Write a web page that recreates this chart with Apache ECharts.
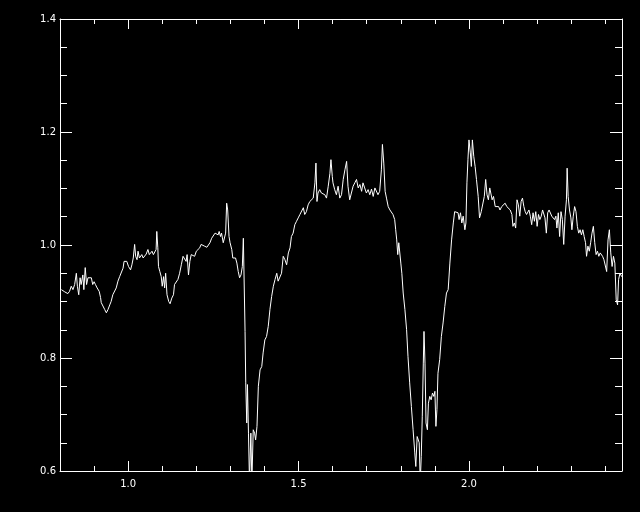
<!DOCTYPE html>
<html>
<head>
<meta charset="utf-8">
<script src="https://cdn.jsdelivr.net/npm/echarts@6/dist/echarts.min.js"></script>
<style>
html,body{margin:0;padding:0;background:#000;}
#chart{width:640px;height:512px;}
</style>
</head>
<body>
<div id="chart"></div>
<script>
// Wavelength (x) values
var wavelength = [
0.804,0.809,0.814,0.818,0.823,0.828,0.833,0.838,0.843,0.848,0.851,0.855,0.859,0.862,0.867,0.870,0.874,0.878,0.882,0.887,
0.892,0.896,0.900,0.904,0.909,0.915,0.919,0.921,0.926,0.931,0.936,0.941,0.946,0.950,0.955,0.960,0.965,0.970,0.975,0.980,
0.985,0.988,0.992,0.996,1.001,1.007,1.011,1.015,1.019,1.022,1.026,1.029,1.033,1.037,1.040,1.044,1.048,1.053,1.058,1.062,
1.066,1.070,1.074,1.078,1.082,1.084,1.087,1.089,1.093,1.097,1.100,1.104,1.107,1.110,1.114,1.119,1.123,1.128,1.133,1.136,
1.141,1.146,1.151,1.156,1.161,1.166,1.170,1.173,1.177,1.181,1.185,1.190,1.195,1.200,1.205,1.210,1.214,1.219,1.224,1.231,
1.235,1.240,1.245,1.250,1.255,1.260,1.264,1.267,1.271,1.274,1.279,1.282,1.286,1.289,1.292,1.296,1.299,1.304,1.307,1.311,
1.315,1.319,1.323,1.327,1.331,1.335,1.338,1.341,1.343,1.345,1.348,1.350,1.353,1.356,1.360,1.363,1.367,1.371,1.374,1.378,
1.382,1.387,1.392,1.396,1.401,1.406,1.411,1.416,1.421,1.426,1.431,1.436,1.440,1.445,1.450,1.455,1.460,1.465,1.470,1.475,
1.479,1.484,1.489,1.494,1.499,1.504,1.509,1.514,1.518,1.523,1.528,1.533,1.538,1.543,1.546,1.548,1.551,1.554,1.557,1.562,
1.567,1.572,1.577,1.582,1.587,1.592,1.595,1.599,1.601,1.606,1.611,1.616,1.621,1.626,1.631,1.636,1.641,1.645,1.650,1.655,
1.660,1.665,1.670,1.675,1.680,1.685,1.689,1.694,1.699,1.704,1.709,1.714,1.719,1.724,1.729,1.733,1.738,1.743,1.746,1.750,
1.754,1.758,1.763,1.768,1.773,1.777,1.782,1.785,1.788,1.791,1.794,1.797,1.800,1.803,1.807,1.812,1.817,1.821,1.826,1.831,
1.836,1.841,1.844,1.848,1.851,1.854,1.857,1.860,1.863,1.866,1.868,1.871,1.874,1.878,1.881,1.885,1.889,1.893,1.897,1.900,
1.903,1.906,1.909,1.914,1.919,1.924,1.929,1.934,1.939,1.944,1.949,1.954,1.958,1.963,1.968,1.971,1.975,1.979,1.983,1.988,
1.991,1.994,1.997,2.000,2.004,2.007,2.010,2.014,2.018,2.022,2.027,2.031,2.036,2.040,2.045,2.049,2.053,2.057,2.061,2.065,
2.068,2.072,2.077,2.082,2.087,2.091,2.096,2.101,2.106,2.111,2.116,2.121,2.126,2.129,2.133,2.137,2.141,2.145,2.149,2.153,
2.157,2.161,2.165,2.169,2.172,2.176,2.180,2.184,2.188,2.192,2.196,2.200,2.204,2.208,2.212,2.216,2.219,2.223,2.227,2.231,
2.235,2.239,2.243,2.247,2.251,2.255,2.258,2.262,2.266,2.270,2.274,2.278,2.282,2.286,2.288,2.291,2.295,2.299,2.302,2.306,
2.310,2.314,2.318,2.322,2.326,2.330,2.334,2.338,2.342,2.345,2.349,2.353,2.357,2.361,2.365,2.369,2.373,2.377,2.381,2.385,
2.389,2.392,2.396,2.400,2.404,2.408,2.412,2.416,2.420,2.424,2.428,2.432,2.436,2.439,2.443,2.448
];
// Normalized flux (y) values
var flux = [
0.921,0.918,0.917,0.915,0.914,0.918,0.927,0.921,0.930,0.950,0.927,0.912,0.942,0.930,0.947,0.921,0.960,0.930,0.942,0.944,
0.942,0.930,0.935,0.930,0.924,0.918,0.907,0.898,0.900,0.886,0.880,0.886,0.894,0.900,0.912,0.913,0.924,0.936,0.944,0.947,
0.959,0.971,0.974,0.971,0.962,0.956,0.965,0.977,1.001,0.980,0.974,0.989,0.977,0.980,0.983,0.977,0.980,0.984,0.992,0.983,
0.986,0.989,0.983,0.986,0.992,1.024,0.995,0.962,0.953,0.944,0.927,0.944,0.924,0.950,0.912,0.900,0.896,0.906,0.912,0.930,
0.933,0.939,0.950,0.965,0.980,0.983,0.971,0.983,0.947,0.971,0.983,0.986,0.980,0.989,0.986,0.995,1.001,1.004,0.998,0.996,
0.995,1.004,1.012,1.015,1.021,1.024,1.018,1.024,1.015,1.021,1.004,1.001,1.021,1.074,1.062,1.015,1.004,0.992,0.977,0.980,
0.977,0.968,0.953,0.942,0.947,0.962,1.012,1.009,0.847,0.756,0.685,0.753,0.667,0.580,0.667,0.580,0.673,0.667,0.655,0.679,
0.750,0.779,0.785,0.809,0.832,0.838,0.856,0.886,0.909,0.927,0.939,0.950,0.936,0.933,0.950,0.980,0.974,0.965,0.986,0.995,
1.015,1.021,1.036,1.042,1.048,1.054,1.057,1.066,1.054,1.059,1.071,1.077,1.074,1.083,1.080,1.110,1.145,1.077,1.092,1.098,
1.092,1.095,1.089,1.083,1.104,1.127,1.151,1.121,1.110,1.098,1.089,1.104,1.083,1.089,1.116,1.133,1.148,1.104,1.080,1.092,
1.104,1.110,1.116,1.101,1.107,1.095,1.110,1.101,1.092,1.098,1.089,1.099,1.086,1.101,1.098,1.089,1.095,1.133,1.178,1.145,
1.095,1.083,1.068,1.062,1.065,1.054,1.045,1.027,1.009,0.983,1.004,1.001,0.968,0.950,0.915,0.886,0.850,0.803,0.756,0.714,
0.673,0.632,0.608,0.661,0.664,0.650,0.580,0.626,0.697,0.791,0.847,0.791,0.685,0.673,0.720,0.732,0.726,0.738,0.732,0.741,
0.679,0.709,0.773,0.797,0.838,0.862,0.891,0.915,0.921,0.968,1.009,1.039,1.059,1.062,1.057,1.045,1.057,1.039,1.051,1.027,
1.039,1.110,1.151,1.186,1.163,1.139,1.186,1.157,1.139,1.116,1.086,1.048,1.059,1.062,1.086,1.116,1.089,1.080,1.101,1.104,
1.080,1.086,1.068,1.065,1.068,1.062,1.068,1.065,1.074,1.068,1.071,1.062,1.054,1.033,1.039,1.030,1.080,1.071,1.051,1.077,
1.083,1.068,1.059,1.054,1.057,1.062,1.051,1.036,1.057,1.042,1.059,1.033,1.054,1.045,1.051,1.062,1.065,1.048,1.021,1.057,
1.062,1.059,1.051,1.054,1.045,1.051,1.030,1.057,1.015,1.059,1.045,1.001,1.051,1.080,1.136,1.086,1.062,1.048,1.027,1.051,
1.068,1.059,1.033,1.021,1.027,1.018,1.027,1.015,1.004,0.980,0.998,0.989,1.004,1.021,1.033,1.004,0.983,0.989,0.980,0.986,
0.983,0.980,0.974,0.977,0.953,1.009,1.027,0.986,0.962,0.980,0.968,0.903,0.894,0.939,0.950,0.944
];
var xMajorTicks = [1.0, 1.5, 2.0];
var xMinorTicks = [0.9, 1.1, 1.2, 1.3, 1.4, 1.6, 1.7, 1.8, 1.9, 2.1, 2.2, 2.3, 2.4];
var yMajorTicks = [0.6, 0.8, 1.0, 1.2, 1.4];
var yMinorTicks = [0.65, 0.7, 0.75, 0.85, 0.9, 0.95, 1.05, 1.1, 1.15, 1.25, 1.3, 1.35];

var points = wavelength.map(function (w, i) { return [w, flux[i]]; });

var XMIN = 0.8, XMAX = 2.449, YMIN = 0.6, YMAX = 1.4;
var white = '#ffffff';
var labelFont = { color: white, fontSize: 10, fontFamily: 'DejaVu Sans' };

function xAxisDef(pos, ticks, len, showLabel, showLine) {
  return {
    type: 'value', position: pos, min: XMIN, max: XMAX,
    splitLine: { show: false },
    axisLine: { show: showLine, onZero: false, lineStyle: { color: white, width: 1 } },
    axisTick: { show: true, inside: true, length: len, customValues: ticks, lineStyle: { color: white, width: 1 } },
    axisLabel: Object.assign({ show: showLabel, customValues: ticks, margin: 8,
      formatter: function (v) { return v.toFixed(1); } }, labelFont)
  };
}
function yAxisDef(pos, ticks, len, showLabel, showLine) {
  return {
    type: 'value', position: pos, min: YMIN, max: YMAX,
    splitLine: { show: false },
    axisLine: { show: showLine, onZero: false, lineStyle: { color: white, width: 1 } },
    axisTick: { show: true, inside: true, length: len, customValues: ticks, lineStyle: { color: white, width: 1 } },
    axisLabel: Object.assign({ show: showLabel, customValues: ticks, margin: 4,
      formatter: function (v) { return v.toFixed(1); } }, labelFont)
  };
}

var chart = echarts.init(document.getElementById('chart'), null, { renderer: 'canvas' });
chart.setOption({
  backgroundColor: '#000000',
  animation: false,
  grid: { left: 60, top: 19, width: 562, height: 452, containLabel: false },
  xAxis: [
    xAxisDef('bottom', xMajorTicks, 10, true, true),
    xAxisDef('bottom', xMinorTicks, 5, false, false),
    xAxisDef('top', xMajorTicks, 10, false, true),
    xAxisDef('top', xMinorTicks, 5, false, false)
  ],
  yAxis: [
    yAxisDef('left', yMajorTicks, 12, true, true),
    yAxisDef('left', yMinorTicks, 7, false, false),
    yAxisDef('right', yMajorTicks, 12, false, true),
    yAxisDef('right', yMinorTicks, 7, false, false)
  ],
  series: [{
    type: 'line',
    data: points,
    xAxisIndex: 0,
    yAxisIndex: 0,
    showSymbol: false,
    symbol: 'none',
    clip: true,
    lineStyle: { color: white, width: 1 }
  }]
});
</script>
</body>
</html>
